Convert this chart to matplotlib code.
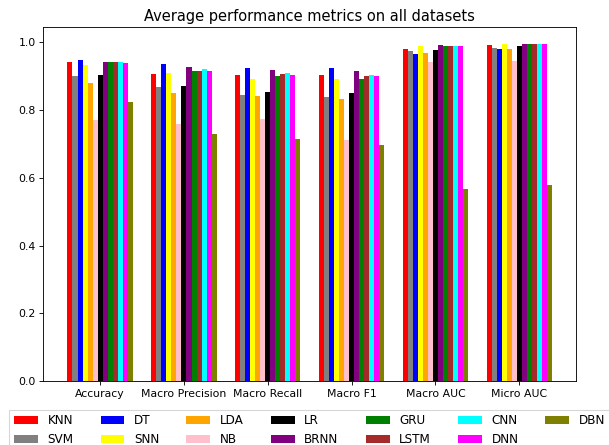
import matplotlib
matplotlib.use('Agg')
import matplotlib.pyplot as plt
import numpy as np

metrics = ['Accuracy', 'Macro Precision', 'Macro Recall', 'Macro F1', 'Macro AUC', 'Micro AUC']
models = ['KNN', 'SVM', 'DT', 'SNN', 'LDA', 'NB', 'LR', 'BRNN', 'GRU', 'LSTM', 'CNN', 'DNN', 'DBN']
colors = ['red', 'gray', 'blue', 'yellow', 'orange', 'pink', 'black',
          'purple', 'green', 'brown', 'cyan', 'magenta', 'olive']

# one list per model: accuracy, macro precision, macro recall, macro f1, macro auc, micro auc
knn = [0.940, 0.907, 0.903, 0.903, 0.979, 0.991]
svm = [0.899, 0.867, 0.843, 0.837, 0.972, 0.983]
dt = [0.947, 0.934, 0.922, 0.922, 0.965, 0.980]
snn = [0.933, 0.908, 0.892, 0.890, 0.987, 0.994]
lda = [0.879, 0.849, 0.841, 0.831, 0.968, 0.979]
nb = [0.769, 0.758, 0.772, 0.711, 0.940, 0.944]
lr = [0.904, 0.871, 0.852, 0.849, 0.976, 0.987]
brnn = [0.940, 0.925, 0.918, 0.914, 0.991, 0.994]
gru = [0.940, 0.914, 0.900, 0.892, 0.987, 0.994]
lstm = [0.940, 0.914, 0.907, 0.899, 0.987, 0.994]
cnn = [0.940, 0.921, 0.910, 0.903, 0.987, 0.994]
dnn = [0.937, 0.914, 0.903, 0.899, 0.987, 0.994]
dbn = [0.823, 0.730, 0.715, 0.696, 0.566, 0.580]

scores = [knn, svm, dt, snn, lda, nb, lr, brnn, gru, lstm, cnn, dnn, dbn]

dpi = 78.5
fig = plt.figure(figsize=(609 / dpi, 445 / dpi), dpi=dpi)
ax = fig.add_axes([0.071, 0.143, 0.875, 0.796])

x = np.arange(len(metrics))
width = 0.06
for i in range(len(models)):
    ax.bar(x + i * width, scores[i], width, color=colors[i], label=models[i])

ax.set_xticks(x + 6 * width)
ax.set_xticklabels(metrics)
ax.set_title('Average performance metrics on all datasets', fontsize=13.4)
ax.legend(loc='upper center', bbox_to_anchor=(0.5, -0.063), ncol=7,
          fancybox=False, fontsize=11, columnspacing=2.25)

fig.savefig('out.png', dpi=dpi)
